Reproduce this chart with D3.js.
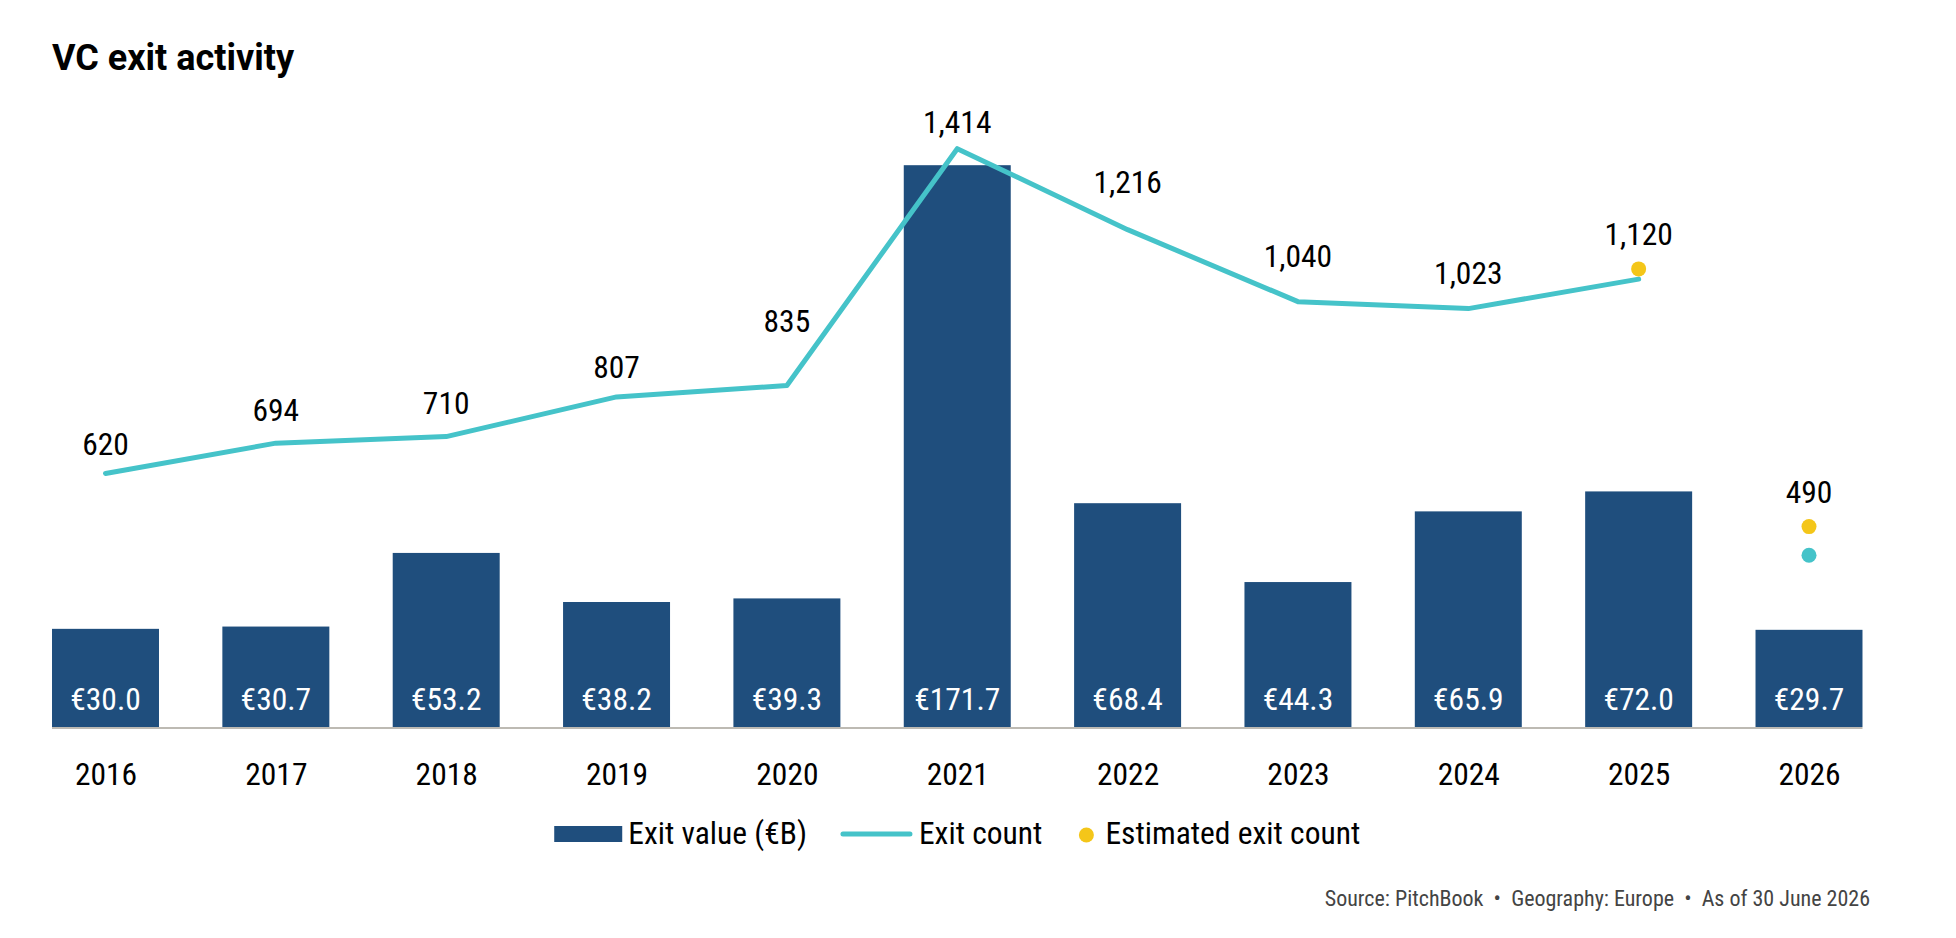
<!DOCTYPE html>
<html>
<head>
<meta charset="utf-8">
<script src="https://cdn.jsdelivr.net/npm/d3@7/dist/d3.min.js"></script>
<style>
  html, body { margin: 0; padding: 0; background: #fff; }
  svg { display: block; }
  .cond { font-family: "Roboto Condensed", "Liberation Sans Narrow", "Arial Narrow", Roboto, sans-serif; font-stretch: condensed; }
</style>
</head>
<body>
<div id="chart"></div>
<script>
// VC exit activity — bars (exit value) + line (exit count) + estimate dots
const YEARS = ['2016', '2017', '2018', '2019', '2020', '2021', '2022', '2023', '2024', '2025', '2026'];
const EXIT_VALUE = [30.0, 30.7, 53.2, 38.2, 39.3, 171.7, 68.4, 44.3, 65.9, 72.0, 29.7];
// line runs 2016–2025; 2026 is a partial year shown as a lone dot
const EXIT_COUNT = [620, 694, 710, 807, 835, 1414, 1216, 1040, 1023, 1095, 420];
const EST_YEARS = ['2025', '2026'];
const EST_COUNT = [1120, 490];
// label text shown above each year (estimate wins where there is one)
const COUNT_LABELS = ['620', '694', '710', '807', '835', '1,414', '1,216', '1,040', '1,023', '1,120', '490'];

// layout: how far each count label sits above its point (px)
const LABEL_LIFT = [18, 22, 23, 19, 53, 16, 37, 35, 25, 24, 24];

const COLORS = { bar: '#1f4e7d', line: '#45c3c9', est: '#f4c619', axis: '#bdbab3' };
const FS = 31.5;

const W = 1956, H = 938;
const baseY = 727, topY = 72.6;

const svg = d3.select('#chart').append('svg')
  .attr('width', W).attr('height', H)
  .attr('viewBox', `0 0 ${W} ${H}`);

const x = d3.scalePoint().domain(YEARS).range([105.5, 1809]);
const bw = x.step() * 0.628;

const yVal = d3.scaleLinear().domain([0, 200]).range([baseY, topY]);
const yCnt = d3.scaleLinear().domain([0, 1600]).range([baseY, topY]);

// Title
svg.append('text')
  .attr('x', 52).attr('y', 70)
  .attr('font-family', 'Roboto, sans-serif')
  .attr('font-weight', 700)
  .attr('font-size', 36)
  .attr('fill', '#000')
  .text('VC exit activity');

const g = svg.append('g');

// Bars
g.selectAll('rect.bar')
  .data(YEARS)
  .join('rect')
  .attr('class', 'bar')
  .attr('x', d => x(d) - bw / 2)
  .attr('y', (d, i) => yVal(EXIT_VALUE[i]))
  .attr('width', bw)
  .attr('height', (d, i) => baseY - yVal(EXIT_VALUE[i]))
  .attr('fill', COLORS.bar);

// Bar value labels
g.selectAll('text.val')
  .data(YEARS)
  .join('text')
  .attr('class', 'val cond')
  .attr('x', d => x(d))
  .attr('y', baseY - 17)
  .attr('text-anchor', 'middle')
  .attr('font-size', FS)
  .attr('fill', '#fff')
  .text((d, i) => `€${EXIT_VALUE[i].toFixed(1)}`);

// Baseline
g.append('line')
  .attr('x1', x(YEARS[0]) - bw / 2).attr('x2', x(YEARS[YEARS.length - 1]) + bw / 2)
  .attr('y1', baseY + 1).attr('y2', baseY + 1)
  .attr('stroke', COLORS.axis)
  .attr('stroke-width', 2);

// X axis labels
const xAxis = g.append('g')
  .attr('transform', `translate(0,${baseY})`)
  .call(d3.axisBottom(x).tickSize(0).tickPadding(0))
  .call(ax => ax.select('.domain').remove());
xAxis.attr('font-family', null).attr('font-size', null);
xAxis.selectAll('text')
  .attr('class', 'cond')
  .attr('font-size', FS)
  .attr('fill', '#000')
  .attr('dy', null)
  .attr('y', 58);

// Exit count line (through 2025)
const lineYears = YEARS.slice(0, 10);
const line = d3.line()
  .x(d => x(d))
  .y(d => yCnt(EXIT_COUNT[YEARS.indexOf(d)]));

g.append('path')
  .datum(lineYears)
  .attr('d', line)
  .attr('fill', 'none')
  .attr('stroke', COLORS.line)
  .attr('stroke-width', 5)
  .attr('stroke-linejoin', 'round')
  .attr('stroke-linecap', 'round');

// 2026 partial-year count dot
g.append('circle')
  .attr('cx', x('2026'))
  .attr('cy', yCnt(EXIT_COUNT[10]))
  .attr('r', 7.5)
  .attr('fill', COLORS.line);

// Estimated count dots
g.selectAll('circle.est')
  .data(EST_YEARS)
  .join('circle')
  .attr('class', 'est')
  .attr('cx', d => x(d))
  .attr('cy', (d, i) => yCnt(EST_COUNT[i]))
  .attr('r', 7.5)
  .attr('fill', COLORS.est);

// Count labels
g.selectAll('text.cnt')
  .data(YEARS)
  .join('text')
  .attr('class', 'cnt cond')
  .attr('x', d => x(d))
  .attr('y', (d, i) => {
    const e = EST_YEARS.indexOf(d);
    const v = e >= 0 ? EST_COUNT[e] : EXIT_COUNT[i];
    return yCnt(v) - LABEL_LIFT[i];
  })
  .attr('text-anchor', 'middle')
  .attr('font-size', FS)
  .attr('fill', '#000')
  .text((d, i) => COUNT_LABELS[i]);

// Legend, centred under the plot
const leg = svg.append('g').attr('class', 'cond');
const legY = 834;
let lx = 0;

const r1 = leg.append('rect').attr('width', 68).attr('height', 16).attr('y', legY - 8).attr('fill', COLORS.bar);
const t1 = leg.append('text').attr('font-size', FS).attr('y', legY + 10).text('Exit value (€B)');
const l2 = leg.append('line').attr('y1', legY).attr('y2', legY)
  .attr('stroke', COLORS.line).attr('stroke-width', 5).attr('stroke-linecap', 'round');
const t2 = leg.append('text').attr('font-size', FS).attr('y', legY + 10).text('Exit count');
const c3 = leg.append('circle').attr('r', 7.5).attr('cy', legY + 1).attr('fill', COLORS.est);
const t3 = leg.append('text').attr('font-size', FS).attr('y', legY + 10).text('Estimated exit count');

r1.attr('x', lx); lx += 68 + 6;
t1.attr('x', lx); lx += t1.node().getComputedTextLength() + 36;
l2.attr('x1', lx).attr('x2', lx + 67); lx += 67 + 9;
t2.attr('x', lx); lx += t2.node().getComputedTextLength() + 44;
c3.attr('cx', lx); lx += 19;
t3.attr('x', lx); lx += t3.node().getComputedTextLength();

const plotMid = (x(YEARS[0]) - bw / 2 + x(YEARS[YEARS.length - 1]) + bw / 2) / 2;
leg.attr('transform', `translate(${plotMid - lx / 2},0)`);

// Source line
svg.append('text')
  .attr('class', 'cond')
  .attr('x', 1870).attr('y', 906)
  .attr('text-anchor', 'end')
  .attr('font-size', 22)
  .attr('fill', '#444')
  .attr('xml:space', 'preserve')
  .text('Source: PitchBook  •  Geography: Europe  •  As of 30 June 2026');
</script>
</body>
</html>
